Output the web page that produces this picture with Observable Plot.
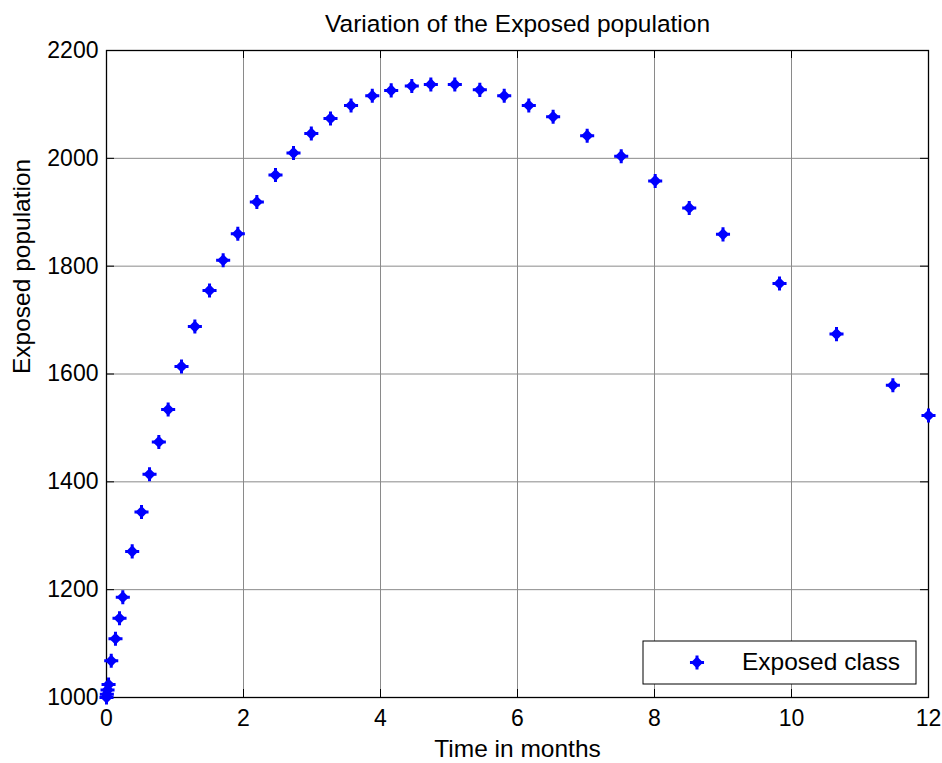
<!DOCTYPE html>
<html>
<head>
<meta charset="utf-8">
<script src="https://cdn.jsdelivr.net/npm/d3@7"></script>
<script src="https://cdn.jsdelivr.net/npm/@observablehq/plot@0.6"></script>
<style>
  html, body { margin: 0; padding: 0; background: #fff; }
  #chart { position: relative; width: 942px; height: 763px; }
</style>
</head>
<body>
<div id="chart"></div>
<script>
const titleText = "Variation of the Exposed population";
const xLabel = "Time in months";
const yLabel = "Exposed population";
const legendLabel = "Exposed class";

const time = [0, 0.005, 0.015, 0.03, 0.069, 0.131, 0.19, 0.238, 0.375, 0.511, 0.628, 0.764, 0.90, 1.095, 1.29, 1.504, 1.703, 1.917, 2.195, 2.467, 2.73, 2.99, 3.27, 3.57, 3.88, 4.156, 4.457, 4.735, 5.085, 5.45, 5.806, 6.165, 6.52, 7.017, 7.514, 8.01, 8.507, 9.0, 9.825, 10.657, 11.48, 12];
const exposed = [1000, 1006, 1014, 1024, 1068, 1109, 1147, 1186, 1271, 1344, 1414, 1474, 1534, 1614, 1688, 1755, 1811, 1860, 1919, 1969, 2010, 2046, 2074, 2098, 2116, 2126, 2134, 2137, 2137, 2127, 2116, 2098, 2077, 2042, 2004, 1958, 1908, 1859, 1768, 1674, 1579, 1523];

const xTicks = [0, 2, 4, 6, 8, 10, 12];
const yTicks = [1000, 1200, 1400, 1600, 1800, 2000, 2200];

const data = time.map((t, i) => ({t, e: exposed[i]}));

const W = 942, H = 763, mL = 106, mR = 14, mT = 50, mB = 66;
const plotW = W - mL - mR, plotH = H - mT - mB;
const tick = 8;
const font = "'Liberation Sans', Arial, Helvetica, sans-serif";
const fs = 23;
const fsL = 24.5;

const chart = Plot.plot({
  width: W, height: H,
  marginLeft: mL, marginRight: mR, marginTop: mT, marginBottom: mB,
  style: {fontFamily: font, fontSize: fs + "px", background: "#fff", color: "#000"},
  x: {domain: [0, 12]},
  y: {domain: [1000, 2200]},
  marks: [
    Plot.ruleX(xTicks.slice(1, -1), {stroke: "#8a8a8a", strokeWidth: 1}),
    Plot.ruleY(yTicks.slice(1, -1), {stroke: "#8a8a8a", strokeWidth: 1}),
    Plot.tickX(xTicks, {insetTop: plotH - tick, stroke: "#000"}),
    Plot.tickX(xTicks, {insetBottom: plotH - tick, stroke: "#000"}),
    Plot.tickY(yTicks, {insetRight: plotW - tick, stroke: "#000"}),
    Plot.tickY(yTicks, {insetLeft: plotW - tick, stroke: "#000"}),
    Plot.frame({stroke: "#000", strokeWidth: 1.3}),
    Plot.axisX(xTicks, {tickSize: 0, tickPadding: 12, label: null, fontSize: fs, tickFormat: d3.format("d")}),
    Plot.axisY(yTicks, {tickSize: 0, tickPadding: 8, label: null, fontSize: fs, tickFormat: d3.format("d")}),
    Plot.dot(data, {x: "t", y: "e", symbol: "diamond2", r: 5.5, fill: "#0000ff", stroke: "none"}),
    Plot.dot(data, {x: "t", y: "e", symbol: "plus", r: 4.6, stroke: "#0000ff", strokeWidth: 3}),
    Plot.text([titleText], {frameAnchor: "top", lineAnchor: "middle", dy: -26, fontSize: fsL, fill: "#000"}),
    Plot.text([xLabel], {frameAnchor: "bottom", lineAnchor: "middle", dy: 52, fontSize: fsL, fill: "#000"}),
    Plot.text([yLabel], {frameAnchor: "left", lineAnchor: "middle", dx: -84, rotate: -90, fontSize: fsL, fill: "#000"})
  ]
});

// Legend box drawn inside the SVG
const svg = d3.select(chart);
const lg = svg.append("g").attr("transform", "translate(643,641)");
lg.append("rect").attr("width", 273).attr("height", 43).attr("fill", "#fff").attr("stroke", "#000").attr("stroke-width", 1);
lg.append("path").attr("transform", "translate(54,21.5)")
  .attr("d", d3.symbol(d3.symbolDiamond2, Math.PI * 5.5 * 5.5)()).attr("fill", "#0000ff");
lg.append("path").attr("transform", "translate(54,21.5)")
  .attr("d", d3.symbol(d3.symbolPlus, Math.PI * 4.6 * 4.6)()).attr("fill", "none").attr("stroke", "#0000ff").attr("stroke-width", 3);
lg.append("text").attr("x", 99).attr("y", 21.5).attr("dy", "0.32em")
  .attr("text-anchor", "start")
  .attr("font-family", font).attr("font-size", fsL).attr("fill", "#000").text(legendLabel);

document.getElementById("chart").appendChild(chart);
</script>
</body>
</html>
